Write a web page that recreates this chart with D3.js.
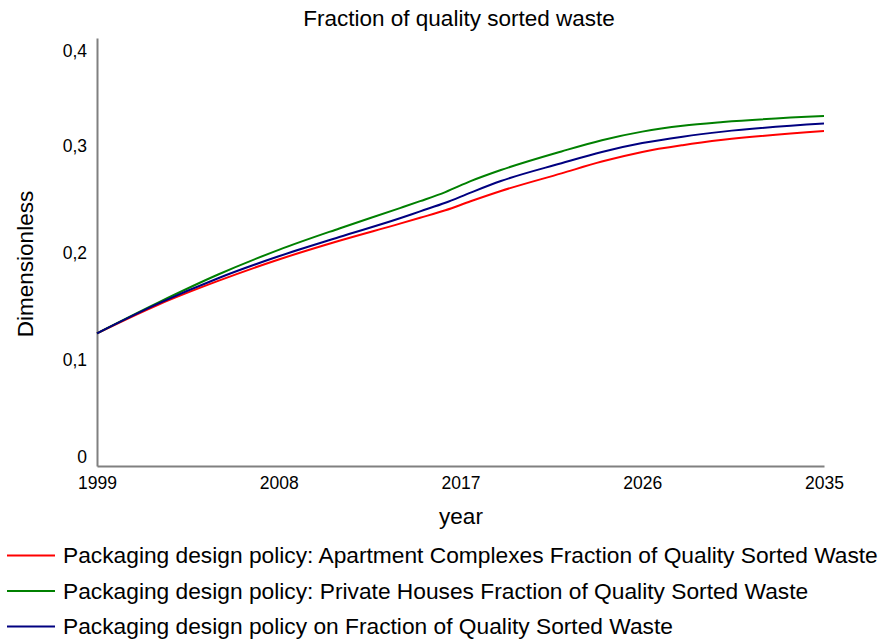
<!DOCTYPE html>
<html><head><meta charset="utf-8">
<script src="https://cdn.jsdelivr.net/npm/d3@7"></script>
<style>body{margin:0;background:#fff;}text{font-family:"Liberation Sans",Arial,sans-serif;fill:#000;}</style>
</head><body>
<svg id="chart" width="880" height="641"></svg>
<script>
const years = [1999, 2002, 2005, 2008, 2011, 2014, 2015, 2016.25, 2017.5, 2019, 2022, 2024, 2026, 2028, 2030, 2035];
const apartment = [0.124, 0.1505, 0.173, 0.193, 0.2105, 0.2265, 0.232, 0.239, 0.2474, 0.257, 0.2735, 0.2845, 0.2935, 0.2998, 0.3048, 0.313];
const privateHouses = [0.124, 0.1525, 0.179, 0.202, 0.222, 0.241, 0.2475, 0.256, 0.2662, 0.2766, 0.294, 0.3045, 0.3125, 0.318, 0.3215, 0.327];
const combined = [0.124, 0.1515, 0.1755, 0.196, 0.214, 0.2315, 0.238, 0.246, 0.2555, 0.2663, 0.283, 0.2935, 0.3018, 0.3078, 0.3125, 0.320];
const xTicks = [1999, 2008, 2017, 2026, 2035];
const yTicks = [0, 0.1, 0.2, 0.3, 0.4];
const seriesNames = [
  "Packaging design policy: Apartment Complexes Fraction of Quality Sorted Waste",
  "Packaging design policy: Private Houses Fraction of Quality Sorted Waste",
  "Packaging design policy on Fraction of Quality Sorted Waste"
];
const seriesColors = ["#ff0000", "#008000", "#000080"];
const seriesValues = [apartment, privateHouses, combined];

(function () {
const svg = d3.select("#chart");
const mLeft = 97, mRight = 824, mTop = 38, mBottom = 466;
const x = d3.scaleLinear().domain([1999, 2035]).range([mLeft, mRight]);
const y = d3.scaleLinear().domain([0, 0.4]).range([mBottom, mTop]);

svg.append("text").attr("x", 459).attr("y", 26).attr("text-anchor", "middle")
  .style("font-size", "22.5px").text("Fraction of quality sorted waste");

// x axis
const gx = svg.append("g").attr("transform", `translate(0,${mBottom})`)
  .call(d3.axisBottom(x).tickValues(xTicks).tickFormat(d3.format("d")).tickSize(0).tickPadding(11));
gx.select(".domain").attr("stroke", "#808080").attr("stroke-width", 2);
gx.selectAll("text").style("font-size", "17.5px").style("font-family", "Liberation Sans, Arial, sans-serif").attr("fill", "#000");

// y axis
const gy = svg.append("g").attr("transform", `translate(${mLeft},0)`)
  .call(d3.axisLeft(y).tickValues(yTicks).tickFormat(d => d === 0 ? "0" : d3.format(".1f")(d).replace(".", ",")).tickSize(0).tickPadding(10));
gy.select(".domain").attr("stroke", "#808080").attr("stroke-width", 2);
gy.selectAll("text").style("font-size", "17.5px").style("font-family", "Liberation Sans, Arial, sans-serif").attr("fill", "#000")
  .attr("dy", (d, i) => i === 0 ? "-0.2em" : (i === yTicks.length - 1 ? "1.05em" : "0.38em"));

svg.append("text").attr("x", 461).attr("y", 524).attr("text-anchor", "middle")
  .style("font-size", "22.5px").text("year");
svg.append("text").attr("transform", "translate(33,264) rotate(-90)").attr("text-anchor", "middle")
  .style("font-size", "22.5px").text("Dimensionless");

const line = d3.line().x((d, i) => x(years[i])).y(d => y(d)).curve(d3.curveMonotoneX);
seriesValues.forEach((vals, k) => {
  svg.append("path").datum(vals).attr("d", line).attr("fill", "none")
    .attr("stroke", seriesColors[k]).attr("stroke-width", 2);
});

// legend
const legendY = [555.5, 591, 626.5];
seriesNames.forEach((name, k) => {
  svg.append("line").attr("x1", 7).attr("x2", 55).attr("y1", legendY[k]).attr("y2", legendY[k])
    .attr("stroke", seriesColors[k]).attr("stroke-width", 2);
  svg.append("text").attr("x", 63).attr("y", legendY[k]).attr("dy", "0.35em")
    .style("font-size", "22.75px").text(name);
});
})();
</script>
</body></html>
